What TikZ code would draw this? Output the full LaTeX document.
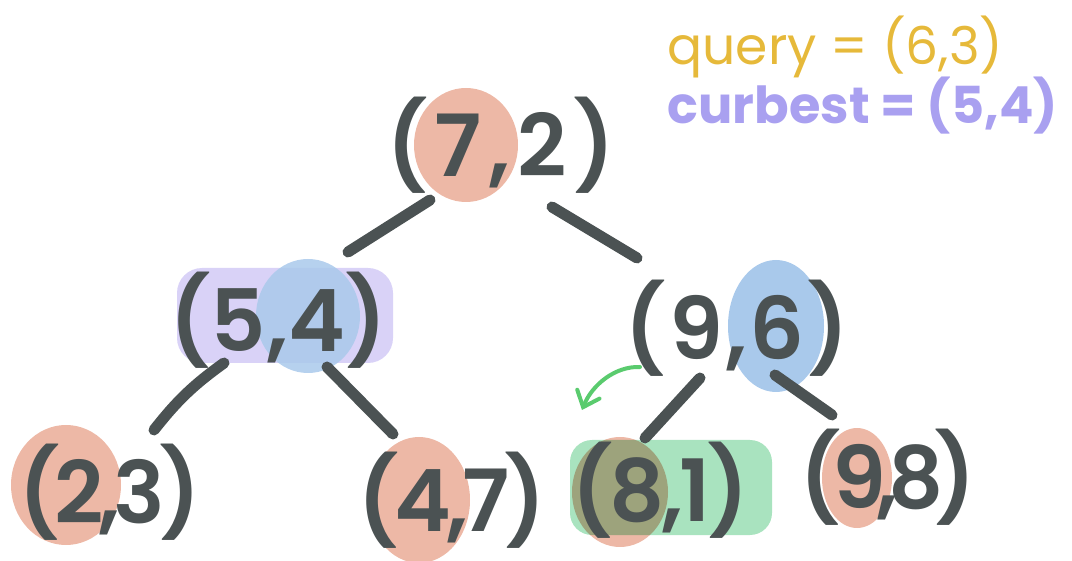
\documentclass[tikz,border=0pt]{standalone}
\usepackage{fontspec}
\setmainfont{Poppins}
\newfontfamily\inkfont{Poppins SemiBold}
\usepackage{tikz}
\usetikzlibrary{arrows.meta}

\definecolor{inkgray}{HTML}{4B5253}
\definecolor{salmon}{HTML}{EDB8A6}
\definecolor{skyblue}{HTML}{A9C9EB}
\definecolor{lavender}{HTML}{D9D2F7}
\definecolor{mintgreen}{HTML}{A9E3BF}
\definecolor{arrowgreen}{HTML}{5ACB6E}
\definecolor{querygold}{HTML}{E6B93A}
\definecolor{bestpurple}{HTML}{A9A0F0}

\begin{document}
\begin{tikzpicture}[x=1pt,y=-1pt,
  pt/.style={text=inkgray, inner sep=4pt,
    font=\inkfont\fontsize{86}{86}\selectfont\addfontfeature{LetterSpace=#1}},
  pt/.default=0,
  edge/.style={draw=inkgray, line width=11pt, line cap=round},
  blob/.style={fill=#1, blend mode=multiply}]

\useasboundingbox (0,0) rectangle (1072,561);

% highlights behind the points
\fill[blob=salmon] (466,145) ellipse (52 and 57);
\fill[blob=lavender, rounded corners=25pt] (177,268) rectangle (393,363);
\fill[skyblue, fill opacity=0.85] (308,316) ellipse (52 and 57);
\fill[blob=skyblue] (776,326) ellipse (48 and 66);
\fill[blob=salmon] (66,485) ellipse (55 and 60);
\fill[blob=salmon] (419,500) ellipse (51 and 63);
\fill[blob=salmon] (620,492) ellipse (48 and 55);
\fill[blob=mintgreen, rounded corners=22pt] (570,440) rectangle (772,535);
\fill[blob=salmon] (857,478) ellipse (35 and 50);

% points of the tree
\node[pt=8]  (n72) at (501,145) {(7,2)};
\node[pt=0]  (n54) at (278,320) {(5,4)};
\node[pt=3]  (n96) at (737,328) {(9,6)};
\node[pt=-7] (n23) at (110,492) {(2,3)};
\node[pt=-6] (n47) at (452,500) {(4,7)};
\node[pt=-4] (n81) at (660,490) {(8,1)};
\node[pt=-11] (n98) at (888,477) {(9,8)};

\draw[edge] ([shift={(-71,55)}]n72.center) -- ([shift={(70,-68)}]n54.center);
\draw[edge] ([shift={(51,62)}]n72.center) -- ([shift={(-100,-70)}]n96.center);
\draw[edge] ([shift={(-54,43)}]n54.center) to[bend right=8] ([shift={(44,-62)}]n23.center);
\draw[edge] ([shift={(49,47)}]n54.center) -- ([shift={(-59,-66)}]n47.center);
\draw[edge] ([shift={(-37,50)}]n96.center) -- ([shift={(-15,-52)}]n81.center);
\draw[edge] ([shift={(38,47)}]n96.center) -- ([shift={(-56,-62)}]n98.center);

% step back to the other side
\coordinate (bendfrom) at (640,367);
\coordinate (bendto) at (582,410);
\draw[arrowgreen, line width=4pt, line cap=round,
  -{Straight Barb[length=14pt, width=24pt, line cap=round]}]
  (bendfrom) .. controls (615,366) and (592,385) .. (bendto);

\node[text=querygold, font=\fontsize{52}{52}\selectfont, anchor=west]
  (query) at (664,47) {query = (6,3)};
\node[text=bestpurple, font=\fontsize{51}{51}\selectfont\bfseries, anchor=west]
  (best) at (664,106) {curbest = (5,4)};

\end{tikzpicture}
\end{document}
